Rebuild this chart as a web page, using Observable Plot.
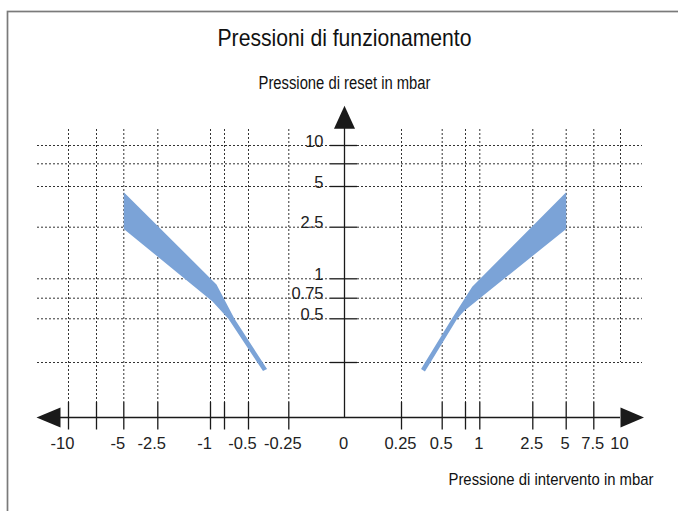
<!DOCTYPE html>
<html>
<head>
<meta charset="utf-8">
<script src="https://cdn.jsdelivr.net/npm/d3@7"></script>
<script src="https://cdn.jsdelivr.net/npm/@observablehq/plot@0.6"></script>
<style>
  body { margin: 0; background: #fff; }
  #chart svg { display: block; }
</style>
</head>
<body>
<div id="chart"></div>
<script>
// ---- texts ----
const chartTitle = "Pressioni di funzionamento";
const yAxisTitle = "Pressione di reset in mbar";
const xAxisTitle = "Pressione di intervento in mbar";

// ---- axis breakpoints (non-uniform hand-drawn scale) ----
const xBreaks = [-10, -7.5, -5, -2.5, -1, -0.75, -0.5, -0.25, 0, 0.25, 0.5, 0.75, 1, 2.5, 5, 7.5, 10];
const yBreaks = [0, 0.25, 0.5, 0.75, 1, 2.5, 5, 7.5, 10];

// ---- ticks / grid ----
const xTickValues = [-10, -7.5, -5, -2.5, -1, -0.75, -0.5, -0.25, 0.25, 0.5, 0.75, 1, 2.5, 5, 7.5];
const xEdgeGrid = [10];
const yTickValues = [0.25, 0.5, 0.75, 1, 2.5, 5, 7.5, 10];

// ---- tick labels ----
const xLabelValues = [-10, -5, -2.5, -1, -0.5, -0.25, 0, 0.25, 0.5, 1, 2.5, 5, 7.5, 10];
const xLabelTexts = ["-10", "-5", "-2.5", "-1", "-0.5", "-0.25", "0", "0.25", "0.5", "1", "2.5", "5", "7.5", "10"];
const yLabelValues = [0.5, 0.75, 1, 2.5, 5, 10];
const yLabelTexts = ["0.5", "0.75", "1", "2.5", "5", "10"];

// ---- operating bands (polygon outline: upper edge then lower edge) ----
const leftBandX = [-5, -0.893, -0.646, -0.385, -0.410, -0.708, -0.964, -5];
const leftBandY = [4.65, 0.927, 0.502, 0.220, 0.211, 0.499, 0.71, 2.45];
const rightBandX = [5, 0.867, 0.605, 0.370, 0.394, 0.659, 0.732, 1.02, 5];
const rightBandY = [4.65, 0.897, 0.504, 0.2205, 0.209, 0.499, 0.592, 0.755, 2.45];

// ---- build tables ----
const leftBand = leftBandX.map((x, i) => ({x, y: leftBandY[i]}));
const rightBand = rightBandX.map((x, i) => ({x, y: rightBandY[i]}));
const xLabels = xLabelValues.map((v, i) => ({v, t: xLabelTexts[i]}));
const yLabels = yLabelValues.map((v, i) => ({v, t: yLabelTexts[i]}));

// piecewise (hand-drawn) axis layout: value -> screen position
const xLayout = d3.scaleLinear(xBreaks,
  [68, 96, 123.3, 157.3, 210, 224, 248, 288.3, 344, 401, 441.7, 465, 479.3, 532.3, 565.7, 593.3, 620]);
const yLayout = d3.scaleLinear(yBreaks,
  [417, 362, 318.3, 297.7, 278.3, 226.7, 186, 163.3, 145]);

// arrowhead symbols (anchored at base centre)
const arrowUp = {draw(c) { c.moveTo(0, -23); c.lineTo(10.5, 0); c.lineTo(-10.5, 0); c.closePath(); }};
const arrowRight = {draw(c) { c.moveTo(23.5, 0); c.lineTo(0, -10); c.lineTo(0, 10); c.closePath(); }};
const arrowLeft = {draw(c) { c.moveTo(-24, 0); c.lineTo(0, -10); c.lineTo(0, 10); c.closePath(); }};

const regular = "'Liberation Sans', Arial, Helvetica, sans-serif";
const gridColor = "#333";
const dash = "2,2";
const ink = "#1a1a1a";
const bandColor = "#7ba3d7";

const chart = Plot.plot({
  width: 678,
  height: 511,
  margin: 0,
  style: {background: "#fff", fontFamily: regular},
  x: {axis: null, transform: xLayout, domain: [0, 678], range: [0, 678]},
  y: {axis: null, transform: yLayout, domain: [0, 511], range: [0, 511]},
  marks: [
    Plot.frame({insetLeft: 7, insetTop: 11, insetRight: -12, insetBottom: -12, stroke: "#7a7a7a", strokeWidth: 1.7}),
    // vertical dashed grid
    Plot.ruleX(xTickValues, {x: d => d, y1: 10, y2: 0, insetTop: -16, insetBottom: 15,
      stroke: gridColor, strokeDasharray: dash, strokeWidth: 1}),
    Plot.ruleX(xEdgeGrid, {x: d => d, y1: 10, y2: 0.25, insetTop: -16,
      stroke: gridColor, strokeDasharray: dash, strokeWidth: 1}),
    // horizontal dashed grid (left and right of the y axis)
    Plot.ruleY(yTickValues, {y: d => d, x1: -10, x2: 0, insetLeft: -31, insetRight: 14,
      stroke: gridColor, strokeDasharray: dash, strokeWidth: 1}),
    Plot.ruleY(yTickValues, {y: d => d, x1: 0, x2: 10, insetLeft: 13, insetRight: -22,
      stroke: gridColor, strokeDasharray: dash, strokeWidth: 1}),
    // bands
    Plot.line(leftBand, {x: "x", y: "y", fill: bandColor, stroke: "none"}),
    Plot.line(rightBand, {x: "x", y: "y", fill: bandColor, stroke: "none"}),
    // axes
    Plot.ruleY([0], {x1: -10, x2: 10, insetLeft: -10, stroke: ink, strokeWidth: 1.3}),
    Plot.ruleX([0], {y1: 10, y2: 0, insetTop: -20, stroke: ink, strokeWidth: 1.3}),
    // ticks
    Plot.ruleX(xTickValues, {x: d => d, y1: 0, y2: 0, insetTop: -15, insetBottom: -12.5, stroke: ink, strokeWidth: 1.3}),
    Plot.ruleY(yTickValues, {y: d => d, x1: 0, x2: 0, insetLeft: -14, insetRight: -13, stroke: ink, strokeWidth: 1.3}),
    // arrowheads
    Plot.dot([0], {x: 0, y: 10, dy: -16.7, symbol: arrowUp, fill: ink, stroke: "none"}),
    Plot.dot([0], {x: 10, y: 0, symbol: arrowRight, fill: ink, stroke: "none"}),
    Plot.dot([0], {x: -10, y: 0, dx: -8, symbol: arrowLeft, fill: ink, stroke: "none"}),
    // x tick labels
    Plot.text(xLabels.filter(d => d.v < 0), {x: "v", y: 0, text: "t", dx: -6, dy: 31.3, lineAnchor: "bottom",
      fontSize: 16.5, fill: "#222"}),
    Plot.text(xLabels.filter(d => d.v >= 0), {x: "v", y: 0, text: "t", dx: -1, dy: 31.3, lineAnchor: "bottom",
      fontSize: 16.5, fill: "#222"}),
    // y tick labels
    Plot.text(yLabels, {x: 0, y: "v", text: "t", dx: -21, dy: 1, textAnchor: "end", lineAnchor: "bottom",
      fontSize: 16.5, fill: "#222"}),
    // titles
    Plot.text([chartTitle], {x: 0, text: d => d, frameAnchor: "top", dy: 45, lineAnchor: "bottom",
      fontSize: 24, fill: "#111"}),
    Plot.text([yAxisTitle], {x: 0, text: d => d, frameAnchor: "top", dy: 88.3, lineAnchor: "bottom",
      fontSize: 18, fill: "#111"}),
    Plot.text([xAxisTitle], {text: d => d, frameAnchor: "top-right", dx: -25, dy: 484, lineAnchor: "bottom",
      textAnchor: "end", fontSize: 17, fill: "#111"})
  ]
});

// condensed lettering of the headings (the reference uses a narrow typeface)
const headingWidths = new Map([[chartTitle, 254], [yAxisTitle, 172], [xAxisTitle, 205]]);
d3.select(chart).selectAll("text").each(function() {
  const w = headingWidths.get(this.textContent);
  if (w) d3.select(this).attr("textLength", w).attr("lengthAdjust", "spacingAndGlyphs");
});

document.getElementById("chart").appendChild(chart);
</script>
</body>
</html>
